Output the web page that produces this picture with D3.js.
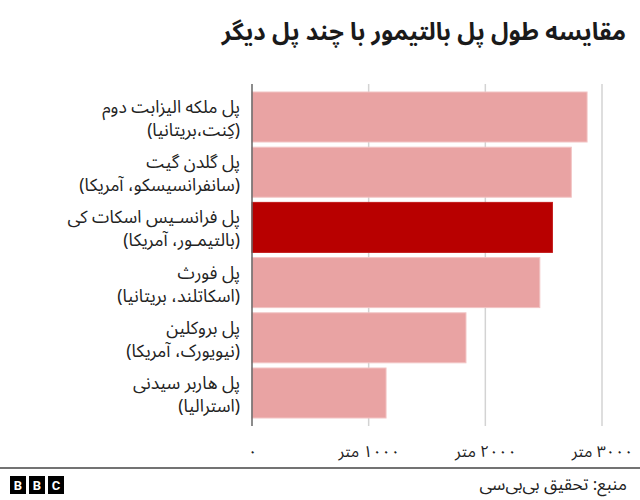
<!DOCTYPE html>
<html><head><meta charset="utf-8">
<script src="https://cdn.jsdelivr.net/npm/d3@7"></script>
<style>
body{margin:0;background:#fff;}
svg{display:block;font-family:"Noto Sans Arabic","DejaVu Sans",sans-serif;}
</style></head>
<body>
<svg id="chart" width="640" height="500"></svg>
<script>
const title = "مقایسه طول پل بالتیمور با چند پل دیگر";
const bridgeNames = ["پل ملکه الیزابت دوم", "پل گلدن گیت", "پل فرانسـیس اسکات کی", "پل فورث", "پل بروکلین", "پل هاربر سیدنی"];
const bridgePlaces = ["(کِنت،بریتانیا)", "(سانفرانسیسکو، آمریکا)", "(بالتیمـور، آمریکا)", "(اسکاتلند، بریتانیا)", "(نیویورک، آمریکا)", "(استرالیا)"];
const lengths = [2872, 2737, 2575, 2467, 1834, 1149];
const highlighted = [false, false, true, false, false, false];
const tickValues = [0, 1000, 2000, 3000];
const tickLabels = ["۰", "۱۰۰۰ متر", "۲۰۰۰ متر", "۳۰۰۰ متر"];
const source = "منبع: تحقیق بی‌بی‌سی";

const RLM = "\u200F";
const rtl = s => RLM + s + RLM;

const svg = d3.select("#chart");
const x = d3.scaleLinear().domain([0, 3000]).range([252, 602]);
const y = d3.scaleBand().domain(d3.range(bridgeNames.length)).range([92, 418]).paddingInner(0.094).paddingOuter(0);

// title
svg.append("text").attr("x", 626).attr("y", 40).attr("text-anchor", "end")
  .attr("font-size", 24).attr("font-weight", "bold").attr("fill", "#1a1a1a").text(rtl(title));

// grid lines
svg.append("g").selectAll("line").data(tickValues.slice(1)).join("line")
  .attr("x1", d => x(d)).attr("x2", d => x(d)).attr("y1", 84).attr("y2", 426)
  .attr("stroke", "#d3d3d3").attr("stroke-width", 1.5);

// bars
svg.append("g").selectAll("rect").data(lengths).join("rect")
  .attr("x", x(0)).attr("y", (d, i) => y(i))
  .attr("width", d => x(d) - x(0)).attr("height", y.bandwidth())
  .attr("fill", (d, i) => highlighted[i] ? "#b80000" : "#e9a3a3")
  .attr("stroke", (d, i) => highlighted[i] ? "#c21a1a" : "#f2c4c4").attr("stroke-width", 1);

// axis line
svg.append("line").attr("x1", x(0)).attr("x2", x(0)).attr("y1", 84).attr("y2", 426)
  .attr("stroke", "#666").attr("stroke-width", 1.5);

// tick labels via axis
const xAxis = d3.axisBottom(x).tickValues(tickValues).tickFormat((d, i) => rtl(tickLabels[i])).tickSize(0).tickPadding(0);
const ax = svg.append("g").attr("transform", "translate(0,446)").call(xAxis);
ax.select(".domain").remove();
ax.selectAll("text").attr("font-size", 16).attr("fill", "#222")
  .attr("font-family", "\"Noto Sans Arabic\",\"DejaVu Sans\",sans-serif");

// category labels
const lab = svg.append("g").selectAll("text").data(bridgeNames).join("text")
  .attr("x", 240).attr("y", (d, i) => y(i) + y.bandwidth() / 2)
  .attr("text-anchor", "end").attr("font-size", 17.5).attr("fill", "#222");
lab.append("tspan").attr("x", 240).attr("dy", -4).text(d => rtl(d));
lab.append("tspan").attr("x", 240).attr("dy", 23).text((d, i) => rtl(bridgePlaces[i]));

// footer
svg.append("line").attr("x1", 0).attr("x2", 640).attr("y1", 468).attr("y2", 468).attr("stroke", "#444").attr("stroke-width", 1.5);
svg.append("text").attr("x", 627).attr("y", 490).attr("text-anchor", "end")
  .attr("font-size", 17).attr("fill", "#222").text(rtl(source));
const logo = svg.append("g").attr("transform", "translate(10,476)");
["B", "B", "C"].forEach((c, i) => {
  logo.append("rect").attr("x", i * 19).attr("y", 0).attr("width", 16).attr("height", 18).attr("fill", "#000");
  logo.append("text").attr("x", i * 19 + 8).attr("y", 14).attr("text-anchor", "middle")
    .attr("font-family", "Roboto, sans-serif").attr("font-weight", "bold").attr("font-size", 13).attr("fill", "#fff").text(c);
});
</script>
</body></html>
